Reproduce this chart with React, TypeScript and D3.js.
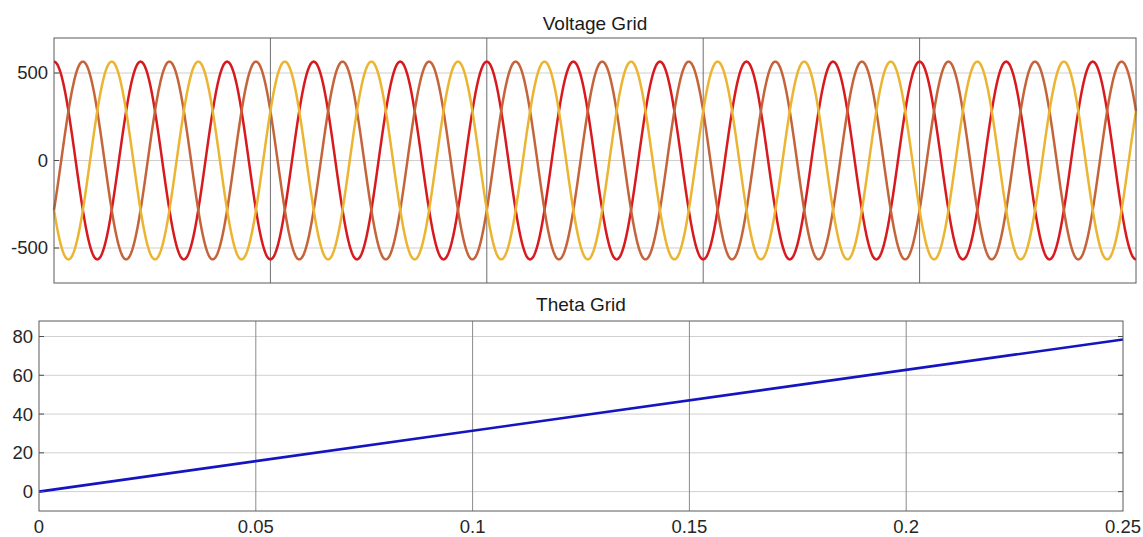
import * as d3 from "d3";
import { useEffect, useRef } from "react";

// axis ticks
const timeTicks = [0, 0.05, 0.1, 0.15, 0.2, 0.25];
const timeTickLabels = ["0", "0.05", "0.1", "0.15", "0.2", "0.25"];
const voltageTicks = [-500, 0, 500];
const thetaTicks = [0, 20, 40, 60, 80];

// three phase grid voltage (~565 V peak, 50 Hz, 120 deg apart)
const phaseNames = ["Va", "Vb", "Vc"];
const phaseColors = ["#d8191e", "#c5643a", "#ebb431"];
const phaseShiftDeg = [0, -120, 120];
const peakVoltage = 565;
const gridFreq = 50;
const simEnd = 0.25;
const sampleStep = 0.0001;

// grid angle ramp (rad)
const thetaTimes = [0, 0.25];
const thetaValues = [0, 78.5];

const W = 1143;
const H = 537;
const FONT = "'Liberation Sans', Arial, Helvetica, sans-serif";
const TXT = "#262626";

const App = () => {
    const ref = useRef<SVGSVGElement>(null);

    useEffect(() => {
        const svg = d3.select(ref.current);
        svg.selectAll("*").remove();

        // ---------- top: Voltage Grid ----------
        const top = { l: 54, r: 1136, t: 38, b: 283 };
        const x1 = d3.scaleLinear().domain([0, simEnd]).range([top.l, top.r]);
        const y1 = d3.scaleLinear().domain([-700, 700]).range([top.b, top.t]);

        const g1 = svg.append("g");

        // horizontal grid
        g1.selectAll("line.hgrid")
            .data(voltageTicks)
            .enter()
            .append("line")
            .attr("x1", top.l).attr("x2", top.r)
            .attr("y1", (d) => y1(d)).attr("y2", (d) => y1(d))
            .attr("stroke", "#cfcfcf").attr("stroke-width", 1);

        // vertical grid (darker in the top panel)
        g1.selectAll("line.vgrid")
            .data(timeTicks.slice(1, -1))
            .enter()
            .append("line")
            .attr("x1", (d) => x1(d)).attr("x2", (d) => x1(d))
            .attr("y1", top.t).attr("y2", top.b)
            .attr("stroke", "#6e6e6e").attr("stroke-width", 1);

        const times = d3.range(0, simEnd + sampleStep / 2, sampleStep);
        const line1 = d3.line<number>()
            .x((t) => x1(t))
            .curve(d3.curveLinear);

        phaseNames.forEach((name, i) => {
            const ph = (phaseShiftDeg[i] * Math.PI) / 180;
            g1.append("path")
                .datum(times)
                .attr("class", name)
                .attr("fill", "none")
                .attr("stroke", phaseColors[i])
                .attr("stroke-width", 2.5)
                .attr("d", line1.y((t) => y1(peakVoltage * Math.cos(2 * Math.PI * gridFreq * t + ph))));
        });

        // y ticks
        g1.selectAll("line.ytick")
            .data(voltageTicks)
            .enter()
            .append("line")
            .attr("x1", top.l).attr("x2", top.l + 5)
            .attr("y1", (d) => y1(d)).attr("y2", (d) => y1(d))
            .attr("stroke", "#4d4d4d");
        g1.selectAll("text.ylab")
            .data(voltageTicks)
            .enter()
            .append("text")
            .attr("x", top.l - 6)
            .attr("y", (d) => y1(d))
            .attr("dy", "0.35em")
            .attr("text-anchor", "end")
            .attr("font-family", FONT)
            .attr("font-size", 18.5)
            .attr("fill", TXT)
            .text((d) => d);

        g1.append("rect")
            .attr("x", top.l).attr("y", top.t)
            .attr("width", top.r - top.l).attr("height", top.b - top.t)
            .attr("fill", "none").attr("stroke", "#5a5a5a").attr("stroke-width", 1);

        g1.append("text")
            .attr("x", (top.l + top.r) / 2)
            .attr("y", 30)
            .attr("text-anchor", "middle")
            .attr("font-family", FONT)
            .attr("font-size", 19)
            .attr("fill", "#1a1a1a")
            .text("Voltage Grid");

        // ---------- bottom: Theta Grid ----------
        const bot = { l: 39, r: 1123, t: 321, b: 511 };
        const x2 = d3.scaleLinear().domain([0, simEnd]).range([bot.l, bot.r]);
        const y2 = d3.scaleLinear().domain([-10, 88]).range([bot.b, bot.t]);

        const g2 = svg.append("g");

        g2.selectAll("line.hgrid")
            .data(thetaTicks)
            .enter()
            .append("line")
            .attr("x1", bot.l).attr("x2", bot.r)
            .attr("y1", (d) => y2(d)).attr("y2", (d) => y2(d))
            .attr("stroke", "#d0d0d0").attr("stroke-width", 1);

        g2.selectAll("line.vgrid")
            .data(timeTicks.slice(1, -1))
            .enter()
            .append("line")
            .attr("x1", (d) => x2(d)).attr("x2", (d) => x2(d))
            .attr("y1", bot.t).attr("y2", bot.b)
            .attr("stroke", "#8a8a8a").attr("stroke-width", 1);

        const line2 = d3.line<number>()
            .x((d, i) => x2(thetaTimes[i]))
            .y((d) => y2(d));
        g2.append("path")
            .datum(thetaValues)
            .attr("fill", "none")
            .attr("stroke", "#1414c0")
            .attr("stroke-width", 2.6)
            .attr("d", line2);

        // y ticks both sides (box on)
        [bot.l, bot.r].forEach((xe, k) => {
            g2.selectAll("line.ytick" + k)
                .data(thetaTicks)
                .enter()
                .append("line")
                .attr("x1", xe).attr("x2", k === 0 ? xe + 5 : xe - 5)
                .attr("y1", (d) => y2(d)).attr("y2", (d) => y2(d))
                .attr("stroke", "#4d4d4d");
        });
        g2.selectAll("text.ylab")
            .data(thetaTicks)
            .enter()
            .append("text")
            .attr("x", bot.l - 6)
            .attr("y", (d) => y2(d))
            .attr("dy", "0.35em")
            .attr("text-anchor", "end")
            .attr("font-family", FONT)
            .attr("font-size", 18.5)
            .attr("fill", TXT)
            .text((d) => d);

        g2.selectAll("text.xlab")
            .data(timeTicks)
            .enter()
            .append("text")
            .attr("x", (d) => x2(d))
            .attr("y", 533)
            .attr("text-anchor", "middle")
            .attr("font-family", FONT)
            .attr("font-size", 18.5)
            .attr("fill", TXT)
            .text((d, i) => timeTickLabels[i]);

        g2.append("rect")
            .attr("x", bot.l).attr("y", bot.t)
            .attr("width", bot.r - bot.l).attr("height", bot.b - bot.t)
            .attr("fill", "none").attr("stroke", "#5a5a5a").attr("stroke-width", 1);

        g2.append("text")
            .attr("x", (bot.l + bot.r) / 2)
            .attr("y", 311)
            .attr("text-anchor", "middle")
            .attr("font-family", FONT)
            .attr("font-size", 19)
            .attr("fill", "#1a1a1a")
            .text("Theta Grid");
    }, []);

    return (
        <svg
            ref={ref}
            width={W}
            height={H}
            style={{ position: "absolute", left: 0, top: 0, background: "#fff" }}
        />
    );
};

export default App;
